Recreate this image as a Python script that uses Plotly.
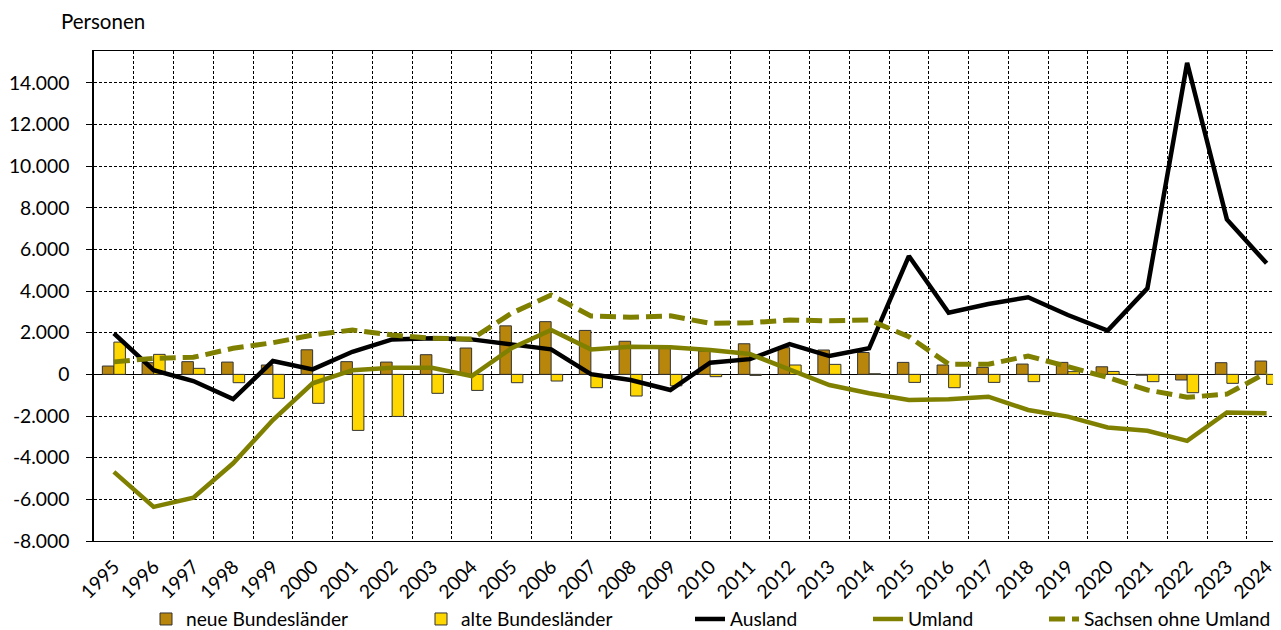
import plotly.graph_objects as go

# ---- data ----
years = [str(y) for y in range(1995, 2025)]

neue_bundeslaender = [400, 560, 610, 590, 450, 1180, 610, 590, 945, 1265,
                      2330, 2530, 2110, 1590, 1300, 1120, 1470, 1280, 1170, 1050,
                      575, 450, 335, 495, 575, 365, -40, -270, 560, 640]

alte_bundeslaender = [1550, 960, 290, -400, -1150, -1390, -2690, -2020, -910, -770,
                      -400, -320, -640, -1040, -550, -110, -50, 450, 480, 30,
                      -385, -640, -385, -350, 130, 140, -350, -880, -430, -480]

ausland = [1970, 200, -320, -1190, 640, 240, 1085, 1680, 1730, 1680,
           1440, 1200, 10, -270, -750, 560, 730, 1450, 880, 1250,
           5680, 2960, 3380, 3700, 2850, 2100, 4130, 14960, 7440, 5330]

umland = [-4680, -6360, -5920, -4270, -2190, -430, 200, 320, 320, -80,
          1250, 2130, 1200, 1330, 1300, 1170, 975, 250, -510, -910,
          -1230, -1200, -1070, -1710, -2030, -2550, -2710, -3190, -1830, -1870]

sachsen_ohne_umland = [600, 770, 820, 1250, 1520, 1890, 2130, 1890, 1730, 1700,
                       2930, 3810, 2800, 2740, 2810, 2450, 2480, 2610, 2570, 2610,
                       1810, 490, 490, 880, 370, -150, -750, -1100, -950, 80]

y_tick_values = [-8000, -6000, -4000, -2000, 0, 2000, 4000, 6000, 8000, 10000, 12000, 14000]
y_tick_labels = ["-8.000", "-6.000", "-4.000", "-2.000", "0", "2.000", "4.000",
                 "6.000", "8.000", "10.000", "12.000", "14.000"]

# ---- styling ----
FONT = "Lato"
FS_TICK = 19.3
FS_LEG = 19.2
FS_TITLE = 20.5
BROWN = "#B8860B"
GOLD = "#FFD700"
OLIVE = "#808000"
OUTLINE = "#333333"

fig = go.Figure()
fig.add_bar(x=years, y=neue_bundeslaender, name="neue Bundesländer",
            marker=dict(color=BROWN, line=dict(color=OUTLINE, width=1)),
            legend="legend")
fig.add_bar(x=years, y=alte_bundeslaender, name="alte Bundesländer",
            marker=dict(color=GOLD, line=dict(color=OUTLINE, width=1)),
            legend="legend2")
fig.add_scatter(x=years, y=ausland, mode="lines", name="Ausland",
                line=dict(color="black", width=4.5), legend="legend3")
fig.add_scatter(x=years, y=umland, mode="lines", name="Umland",
                line=dict(color=OLIVE, width=4.5), legend="legend4")
fig.add_scatter(x=years, y=sachsen_ohne_umland, mode="lines", name="Sachsen ohne Umland",
                line=dict(color=OLIVE, width=5, dash="16px,7px"), legend="legend5")

OFF = 8  # page body margin of the html page
W, H = 1281 - OFF, 630 - OFF
L, T, B, R = 94 - OFF, 51 - OFF, 89, 0
pw = W - L - R
ph = H - T - B


def lx(px):
    return (px - OFF - L) / pw


def ly(py):
    return (H - B - (py - OFF)) / ph


legend_common = dict(yref="container", y=(630 - 619) / H, xanchor="left", yanchor="middle",
                     orientation="h",
                     font=dict(family=FONT, size=FS_LEG, color="black"),
                     bgcolor="rgba(0,0,0,0)", itemwidth=30)

fig.update_layout(
    width=W, height=H,
    margin=dict(l=L, r=R, t=T, b=B),
    paper_bgcolor="white", plot_bgcolor="white",
    font=dict(family=FONT, size=FS_TICK, color="black"),
    showlegend=True,
    barmode="group", bargap=0.42, bargroupgap=0,
    legend=dict(x=lx(146), **legend_common),
    legend2=dict(x=lx(421), **legend_common),
    legend3=dict(x=lx(690), **legend_common),
    legend4=dict(x=lx(868), **legend_common),
    legend5=dict(x=lx(1044), **legend_common),
    annotations=[dict(text="Personen", xref="paper", yref="paper",
                      x=lx(59), y=ly(21), xanchor="left", yanchor="middle",
                      showarrow=False, font=dict(family=FONT, size=FS_TITLE, color="black"))],
)

fig.update_xaxes(
    type="category",
    range=[-0.5, 29.5 - 5.5 / 39.74],
    tickson="boundaries",
    ticks="",
    tickangle=-45,
    ticklabelstandoff=6,
    showgrid=True, gridcolor="black", gridwidth=1, griddash="3px,2px",
    showline=True, linecolor="black", linewidth=1, mirror=True,
    tickfont=dict(family=FONT, size=FS_TICK, color="black"),
    automargin=False,
)
fig.update_yaxes(
    range=[-8000, 15525],
    tickmode="array", tickvals=y_tick_values, ticktext=y_tick_labels,
    ticks="outside", ticklen=6, tickcolor="black",
    ticklabelstandoff=13,
    showgrid=True, gridcolor="black", gridwidth=1, griddash="3px,2px",
    zeroline=True, zerolinecolor="black", zerolinewidth=1,
    showline=True, linecolor="black", linewidth=1.5,
    tickfont=dict(family=FONT, size=FS_TICK, color="black"),
    automargin=False,
)

fig.write_html("out.html")
